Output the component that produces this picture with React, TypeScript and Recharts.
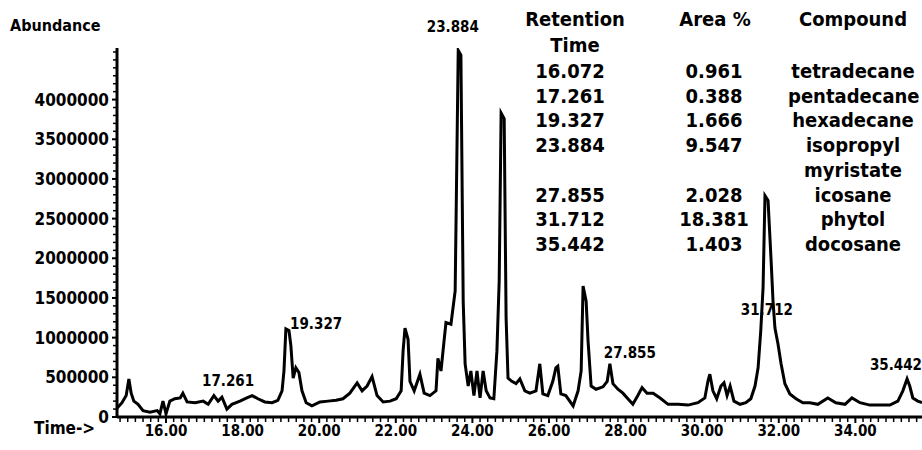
import { Line, LineChart, ReferenceDot, XAxis, YAxis } from "recharts";

// chromatogram trace (minutes, abundance counts)
const retentionMin = [
  14.72, 14.85, 14.96, 15.03, 15.09, 15.16, 15.27, 15.4, 15.58, 15.77, 15.84, 15.92,
  16.0, 16.1, 16.23, 16.37, 16.44, 16.55, 16.76, 16.97, 17.1, 17.25, 17.36, 17.46,
  17.59, 17.72, 17.93, 18.11, 18.25, 18.4, 18.58, 18.77, 18.92, 19.03, 19.08, 19.13,
  19.21, 19.26, 19.32, 19.39, 19.47, 19.55, 19.66, 19.81, 20.02, 20.23, 20.44, 20.62,
  20.8, 20.99, 21.12, 21.25, 21.38, 21.51, 21.67, 21.85, 22.01, 22.14, 22.19, 22.24,
  22.32, 22.37, 22.48, 22.63, 22.74, 22.89, 23.05, 23.1, 23.18, 23.26, 23.31, 23.44,
  23.55, 23.63, 23.7, 23.76, 23.81, 23.89, 23.96, 24.04, 24.12, 24.2, 24.28, 24.36,
  24.46, 24.56, 24.64, 24.7, 24.75, 24.83, 24.88, 24.93, 25.03, 25.14, 25.24, 25.37,
  25.5, 25.66, 25.76, 25.84, 25.97, 26.1, 26.18, 26.23, 26.31, 26.44, 26.63, 26.76,
  26.84, 26.89, 26.97, 27.02, 27.1, 27.23, 27.41, 27.52, 27.59, 27.67, 27.8, 27.93,
  28.06, 28.19, 28.32, 28.43, 28.56, 28.72, 28.9, 29.11, 29.37, 29.63, 29.89, 30.07,
  30.15, 30.2, 30.28, 30.38, 30.49, 30.57, 30.65, 30.73, 30.83, 30.99, 31.14, 31.27,
  31.38, 31.46, 31.53, 31.59, 31.64, 31.72, 31.8, 31.85, 31.9, 31.98, 32.06, 32.16,
  32.29, 32.45, 32.63, 32.81, 33.02, 33.28, 33.49, 33.73, 33.91, 34.12, 34.38, 34.64,
  34.9, 35.11, 35.24, 35.35, 35.42, 35.5, 35.63, 35.74,
];

const abundance = [
  110000, 180000, 270000, 480000, 300000, 200000, 160000, 80000, 60000, 80000, 40000, 200000,
  40000, 200000, 230000, 240000, 300000, 190000, 180000, 200000, 160000, 270000, 200000, 250000,
  100000, 160000, 200000, 240000, 270000, 230000, 190000, 180000, 210000, 330000, 580000, 1110000,
  1090000, 900000, 490000, 620000, 560000, 330000, 180000, 140000, 190000, 200000, 210000, 230000,
  300000, 430000, 330000, 390000, 510000, 270000, 190000, 200000, 230000, 330000, 830000, 1120000,
  980000, 450000, 330000, 540000, 300000, 270000, 330000, 740000, 580000, 960000, 1190000, 1170000,
  1590000, 4620000, 4560000, 1460000, 670000, 390000, 580000, 270000, 580000, 240000, 580000, 330000,
  240000, 230000, 830000, 1720000, 3830000, 3760000, 1250000, 490000, 450000, 420000, 480000, 330000,
  300000, 330000, 670000, 290000, 270000, 450000, 620000, 640000, 290000, 270000, 140000, 330000,
  580000, 1650000, 1460000, 960000, 390000, 350000, 380000, 450000, 670000, 420000, 350000, 300000,
  230000, 160000, 270000, 370000, 300000, 300000, 240000, 160000, 160000, 150000, 180000, 240000,
  450000, 540000, 330000, 230000, 390000, 430000, 270000, 390000, 200000, 160000, 180000, 230000,
  390000, 620000, 1090000, 1630000, 2790000, 2730000, 1970000, 1460000, 1120000, 920000, 670000, 420000,
  290000, 230000, 180000, 180000, 160000, 240000, 180000, 160000, 240000, 180000, 150000, 150000,
  150000, 200000, 330000, 480000, 390000, 240000, 200000, 180000,
];

const xTicks = [16, 18, 20, 22, 24, 26, 28, 30, 32, 34];
const yTicks = [0, 500000, 1000000, 1500000, 2000000, 2500000, 3000000, 3500000, 4000000];

// peak annotations: label text and where it sits (minutes, counts)
const peakLabelText = ["17.261", "19.327", "23.884", "27.855", "31.712", "35.442"];
const peakLabelTime = [17.62, 19.92, 23.49, 28.11, 31.69, 35.06];
const peakLabelAbund = [455000, 1170000, 4920000, 810000, 1350000, 660000];

// summary table
const tableRetention = ["16.072", "17.261", "19.327", "23.884", "", "27.855", "31.712", "35.442"];
const tableArea = ["0.961", "0.388", "1.666", "9.547", "", "2.028", "18.381", "1.403"];
const tableCompound = [
  "tetradecane",
  "pentadecane",
  "hexadecane",
  "isopropyl",
  "myristate",
  "icosane",
  "phytol",
  "docosane",
];

const xDomain = [14.72, 35.74];
const yDomain = [0, 4650000];
// minor tick marks every 0.2 min / 100000 counts, majors are labelled
const minorX = Array.from({ length: 105 }, (_, i) => +(14.8 + i * 0.2).toFixed(1));
const minorY = Array.from({ length: 47 }, (_, i) => i * 100000);

const data = retentionMin.map((t, i) => ({ t, y: abundance[i] }));

const font = "'DejaVu Sans Condensed', 'DejaVu Sans', sans-serif";

function XTick(props: any) {
  const { x, y, payload } = props;
  const major = xTicks.includes(payload.value);
  return (
    <g>
      <line x1={x} x2={x} y1={y} y2={y + (major ? 6 : 5)} stroke="#000" strokeWidth={major ? 2 : 1.5} />
      {major && (
        <text x={x} y={y + 19} textAnchor="middle" fill="#000" fontSize={15} fontWeight="bold" fontFamily={font}>
          {payload.value.toFixed(2)}
        </text>
      )}
    </g>
  );
}

function YTick(props: any) {
  const { x, y, payload } = props;
  const major = yTicks.includes(payload.value);
  return (
    <g>
      <line x1={x - (major ? 5 : 4)} x2={x} y1={y} y2={y} stroke="#000" strokeWidth={major ? 2 : 1.5} />
      {major && (
        <text x={x - 8} y={y + 6} textAnchor="end" fill="#000" fontSize={17} fontWeight="bold" fontFamily={font}>
          {payload.value}
        </text>
      )}
    </g>
  );
}

export default function App() {
  const rowTop = 59;
  const rowH = 24.7;
  const cell = (left: number, width: number, top: number, text: string, key: string) => (
    <div
      key={key}
      style={{
        position: "absolute",
        left,
        top,
        width,
        textAlign: "center",
        fontSize: 20,
        lineHeight: "24px",
        whiteSpace: "nowrap",
      }}
    >
      {text}
    </div>
  );

  return (
    <div
      style={{
        position: "absolute",
        left: 0,
        top: 0,
        width: 922,
        height: 450,
        background: "#fff",
        fontFamily: font,
        fontWeight: "bold",
        fontStretch: "condensed",
        color: "#000",
        overflow: "hidden",
      }}
    >
      <LineChart
        width={922}
        height={450}
        data={data}
        margin={{ top: 48, right: 0, bottom: 0, left: 0 }}
      >
        <XAxis
          xAxisId="main"
          dataKey="t"
          type="number"
          domain={xDomain}
          ticks={minorX}
          interval={0}
          allowDataOverflow
          height={33}
          tickSize={0}
          tickMargin={0}
          tickLine={false}
          axisLine={{ stroke: "#000", strokeWidth: 3 }}
          tick={<XTick />}
        />
        <YAxis
          yAxisId="main"
          type="number"
          domain={yDomain}
          ticks={minorY}
          interval={0}
          allowDataOverflow
          width={117}
          tickSize={0}
          tickMargin={0}
          tickLine={false}
          axisLine={{ stroke: "#000", strokeWidth: 3 }}
          tick={<YTick />}
        />
        <Line
          xAxisId="main"
          yAxisId="main"
          type="linear"
          dataKey="y"
          stroke="#000"
          strokeWidth={3}
          dot={false}
          isAnimationActive={false}
        />
        {peakLabelText.map((txt, i) => (
          <ReferenceDot
            key={txt}
            xAxisId="main"
            yAxisId="main"
            x={peakLabelTime[i]}
            y={peakLabelAbund[i]}
            r={0}
            ifOverflow="visible"
            stroke="none"
            label={{
              value: txt,
              position: "center",
              fill: "#000",
              fontSize: 15,
              fontWeight: "bold",
              fontFamily: font,
            }}
          />
        ))}
      </LineChart>

      <div style={{ position: "absolute", left: 10, top: 16, fontSize: 16 }}>Abundance</div>
      <div style={{ position: "absolute", left: 34, top: 418, fontSize: 17 }}>Time-&gt;</div>

      {cell(515, 120, 7, "Retention", "h1")}
      {cell(515, 120, 33, "Time", "h2")}
      {cell(655, 120, 7, "Area %", "h3")}
      {cell(788, 130, 7, "Compound", "h4")}
      {tableRetention.map((v, i) => cell(510, 120, rowTop + i * rowH, v, "r" + i))}
      {tableArea.map((v, i) => cell(654, 120, rowTop + i * rowH, v, "a" + i))}
      {tableCompound.map((v, i) => cell(788, 130, rowTop + i * rowH, v, "c" + i))}
    </div>
  );
}
